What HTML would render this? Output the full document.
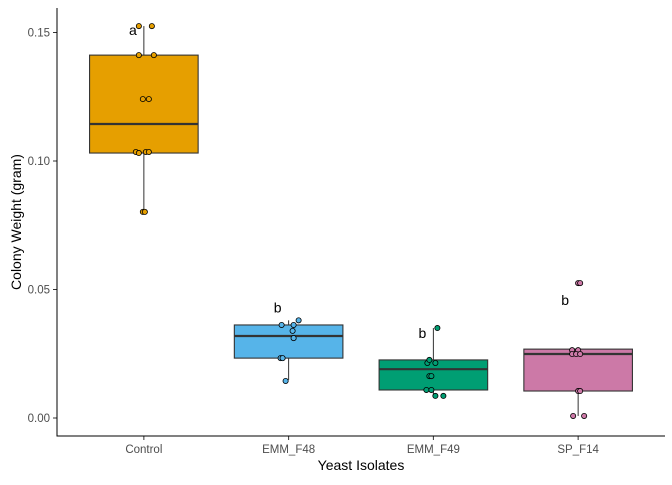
<!DOCTYPE html>
<html><head><meta charset="utf-8"><style>
body{margin:0;background:#fff}
svg{font-family:"Liberation Sans",sans-serif}
</style></head><body>
<svg id="c" width="672" height="480" viewBox="0 0 672 480">
<g id="g"></g>
</svg>
<script>
const categories=["Control","EMM_F48","EMM_F49","SP_F14"];
const colors=["#E69F00","#56B4E9","#009E73","#CC79A7"];
const q1=[0.1031,0.0233,0.0109,0.0105];
const medians=[0.1144,0.0319,0.0190,0.0249];
const q3=[0.1412,0.0362,0.0226,0.0268];
const whiskerLow=[0.0802,0.0148,0.0086,0.0008];
const whiskerHigh=[0.1525,0.0380,0.0350,0.0268];
const pointsControl=[0.1525,0.1525,0.1412,0.1412,0.1241,0.1241,0.1035,0.1031,0.1035,0.1035,0.0802,0.0802];
const pointsF48=[0.0362,0.0362,0.0380,0.0339,0.0311,0.0233,0.0233,0.0144];
const pointsF49=[0.0350,0.0214,0.0226,0.0214,0.0163,0.0163,0.0109,0.0109,0.0086,0.0086];
const pointsSP=[0.0525,0.0525,0.0264,0.0264,0.0249,0.0249,0.0249,0.0105,0.0105,0.0008,0.0008];
const points=[pointsControl,pointsF48,pointsF49,pointsSP];
const jitterControl=[-5,8,-5,10,-1,5,-8,-5,2,5,-1,1];
const jitterF48=[-7,5,10,4,5,-8,-6,-3];
const jitterF49=[4,-6,-4,2,-4,-2,-7,-2,2,10];
const jitterSP=[0,2,-6,0,-6,-2,2,0,2,-5,6];
const jitters=[jitterControl,jitterF48,jitterF49,jitterSP];
const letters=["a","b","b","b"];
const letterValues=[0.151,0.043,0.033,0.046];
const letterDx=[-11,-11,-11,-13];
const yTicks=[0,0.05,0.10,0.15];
const yTickLabels=["0.00","0.05","0.10","0.15"];

const L=57,R=665,T=8,B=436;
const y=v=>418-v*2570;
const band=(R-L)/(categories.length+0.2);
const x=i=>L+band*(i+0.6);
const bw=band*0.75;
const NS="http://www.w3.org/2000/svg";
const g=document.getElementById('g');
function el(t,a,p){const e=document.createElementNS(NS,t);for(const k in a)e.setAttribute(k,a[k]);(p||g).appendChild(e);return e;}

categories.forEach((c,i)=>{
  const cx=x(i);
  const grp=el('g',{});
  
  
  const w1=el('line',{x1:cx,x2:cx,y1:y(whiskerHigh[i]),y2:y(q3[i]),stroke:'#333','stroke-width':1},grp);
  
  
  const w2=el('line',{x1:cx,x2:cx,y1:y(q1[i]),y2:y(whiskerLow[i]),stroke:'#333','stroke-width':1},grp);
  
  
  const r=el('rect',{x:cx-bw/2,y:y(q3[i]),width:bw,height:y(q1[i])-y(q3[i]),fill:colors[i],stroke:'#333','stroke-width':1.1},grp);
  
  
  const m=el('line',{x1:cx-bw/2,x2:cx+bw/2,y1:y(medians[i]),y2:y(medians[i]),stroke:'#333','stroke-width':2.2},grp);
  
  
  points[i].forEach((v,j)=>{
    const p=el('circle',{cx:cx+jitters[i][j],cy:y(v),r:2.6,fill:colors[i],stroke:'#000','stroke-width':0.8},grp);
    
    
  });
  const t=el('text',{x:cx+letterDx[i],y:y(letterValues[i])+5,'font-size':14,fill:'#000','text-anchor':'middle'},grp);
  t.textContent=letters[i];
  
  
  const tk=el('line',{x1:cx,x2:cx,y1:B,y2:B+4,stroke:'#333'});
  
  
  const xl=el('text',{x:cx,y:453,'font-size':11.5,fill:'#4d4d4d','text-anchor':'middle'});
  xl.textContent=c;
  
  
});
yTicks.forEach((v,i)=>{
  const tk=el('line',{x1:L-4,x2:L,y1:y(v),y2:y(v),stroke:'#333'});
  
  
  const t=el('text',{x:L-7,y:y(v)+4,'font-size':11.5,fill:'#4d4d4d','text-anchor':'end'});
  t.textContent=yTickLabels[i];
  
  
});
const ax=el('path',{d:`M${L},${T}V${B}H${R}`,fill:'none',stroke:'#000','stroke-width':1});


const xt=el('text',{x:(L+R)/2,y:470,'font-size':14,fill:'#000','text-anchor':'middle'});
xt.textContent='Yeast Isolates';


const yt=el('text',{x:0,y:0,'font-size':14,fill:'#000','text-anchor':'middle',transform:`translate(21,${(T+B)/2}) rotate(-90)`});
yt.textContent='Colony Weight (gram)';


</script>
</body></html>
